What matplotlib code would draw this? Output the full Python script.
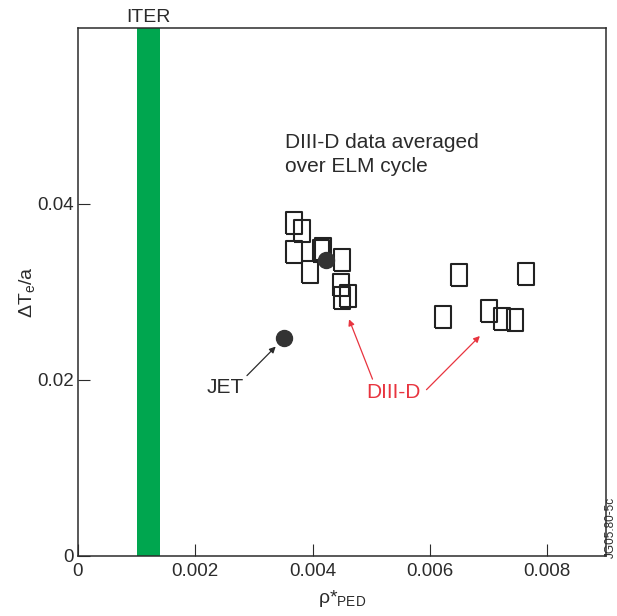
import matplotlib
matplotlib.use("Agg")
import matplotlib.pyplot as plt
import matplotlib.transforms as mtransforms

plt.rcParams['font.family'] = ['Liberation Sans', 'DejaVu Sans']
plt.rcParams['mathtext.fontset'] = 'custom'
plt.rcParams['mathtext.rm'] = 'Liberation Sans'
plt.rcParams['mathtext.it'] = 'Liberation Sans:italic'

# DIII-D data averaged over ELM cycle (open squares)
diiid_rho = [0.00369, 0.00382, 0.00369, 0.00415, 0.00417, 0.00396, 0.00450,
             0.00449, 0.00450, 0.00461, 0.00650, 0.00763, 0.00623, 0.00701,
             0.00723, 0.00745]
diiid_dte = [0.0378, 0.0369, 0.0346, 0.0347, 0.0349, 0.0323, 0.0336,
             0.0308, 0.0293, 0.0296, 0.0319, 0.0321, 0.0272, 0.0278,
             0.0269, 0.0268]

# filled circles
jet_rho, jet_dte = 0.00351, 0.0248
d3_circle_rho, d3_circle_dte = 0.00423, 0.0336

# ITER band
iter_lo, iter_hi = 0.0010, 0.0014

xticks = [0, 0.002, 0.004, 0.006, 0.008]
xtick_labels = ['0', '0.002', '0.004', '0.006', '0.008']
yticks = [0, 0.02, 0.04]
ytick_labels = ['0', '0.02', '0.04']

dark = '#2b2b2b'
red = '#e8343f'
green = '#00a64f'

fig = plt.figure(figsize=(6.17, 6.16), dpi=100)
ax = fig.add_axes([78 / 617, 60 / 616, 528 / 617, 528 / 616])

ax.axvspan(iter_lo, iter_hi, color=green, lw=0, zorder=1)

rect = [(-0.73, -1), (0.73, -1), (0.73, 1), (-0.73, 1), (-0.73, -1)]
ax.plot(diiid_rho, diiid_dte, linestyle='none', marker=rect, markersize=16,
        markerfacecolor='none', markeredgecolor='#222222', markeredgewidth=1.5,
        zorder=3)
ax.plot([jet_rho, d3_circle_rho], [jet_dte, d3_circle_dte], linestyle='none',
        marker='o', markersize=11.5, color='#333333', zorder=4)

ax.set_xlim(0, 0.009)
ax.set_ylim(0, 0.06)
ax.set_xticks(xticks)
ax.set_xticklabels(xtick_labels)
ax.set_yticks(yticks)
ax.set_yticklabels(ytick_labels)
ax.tick_params(direction='in', length=8.6, width=0.8, color=dark,
               labelsize=13.5, labelcolor=dark)
ax.tick_params(axis='x', pad=5)
ax.tick_params(axis='y', pad=3)
for s in ax.spines.values():
    s.set_color(dark)
    s.set_linewidth(1.1)

ax.set_xlabel(r'ρ*$_{\mathrm{PED}}$', fontsize=14, color=dark, labelpad=6)
ax.set_ylabel(r'ΔT$_{\mathrm{e}}$/a', fontsize=14, color=dark, labelpad=0)

trans = mtransforms.blended_transform_factory(ax.transData, ax.transAxes)
ax.text((iter_lo + iter_hi) / 2, 1.012, 'ITER', transform=trans,
        ha='center', va='baseline', fontsize=14, color=dark)

ax.text(0.00353, 0.0464, 'DIII-D data averaged', fontsize=15, color=dark,
        ha='left', va='baseline')
ax.text(0.00353, 0.0436, 'over ELM cycle', fontsize=15, color=dark,
        ha='left', va='baseline')

ax.text(0.00251, 0.0191, 'JET', fontsize=15, color=dark,
        ha='center', va='center')
ax.annotate('', xy=(0.00337, 0.0238), xytext=(0.00288, 0.0205),
            arrowprops=dict(arrowstyle='-|>', color=dark, lw=0.9,
                            mutation_scale=9, shrinkA=0, shrinkB=0))
ax.text(0.00537, 0.0186, 'DIII-D', fontsize=15, color=red,
        ha='center', va='center')
ax.annotate('', xy=(0.00462, 0.0269), xytext=(0.00502, 0.0201),
            arrowprops=dict(arrowstyle='-|>', color=red, lw=0.9,
                            mutation_scale=9, shrinkA=0, shrinkB=0))
ax.annotate('', xy=(0.00685, 0.0250), xytext=(0.00594, 0.0189),
            arrowprops=dict(arrowstyle='-|>', color=red, lw=0.9,
                            mutation_scale=9, shrinkA=0, shrinkB=0))

fig.text(611 / 617, 1 - 558 / 616, 'JG05.80-5c', rotation=90, fontsize=8.5,
         color=dark, ha='center', va='bottom')

fig.savefig('out.png', dpi=100)
